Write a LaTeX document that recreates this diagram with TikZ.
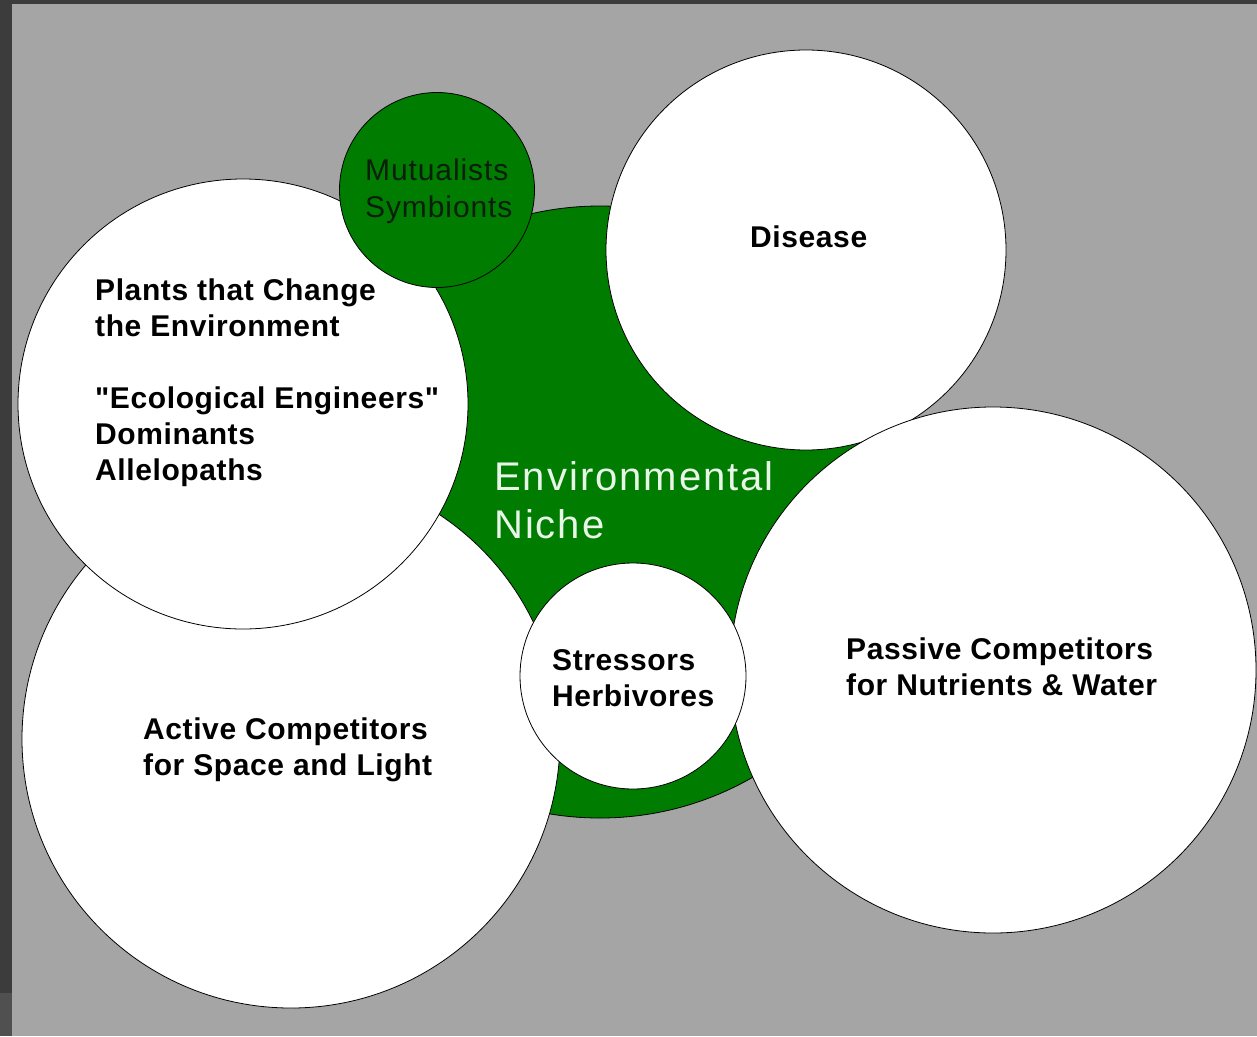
\documentclass[tikz,border=0pt]{standalone}
\usepackage{fontspec}
\setmainfont{Liberation Sans}
\newfontfamily\labfont[LetterSpace=2]{Liberation Sans}
\newfontfamily\mutfont[LetterSpace=3]{Liberation Sans}
\newfontfamily\envfont[LetterSpace=5]{Liberation Sans}
\definecolor{bggray}{RGB}{165,165,165}
\definecolor{framedark}{RGB}{60,60,60}
\definecolor{framemid}{RGB}{80,80,80}
\definecolor{nichegreen}{RGB}{0,125,0}
\definecolor{mutext}{RGB}{12,30,12}
\definecolor{envtext}{RGB}{232,246,232}
\tikzset{
  bubble/.style={circle, draw=black, line width=0.8pt, inner sep=0pt, fill=white},
  greenbubble/.style={bubble, fill=nichegreen},
  lab/.style={anchor=base west, inner sep=0pt, font=\labfont\bfseries\fontsize{30}{36}\selectfont, text=black},
  mutlab/.style={anchor=base west, inner sep=0pt, font=\mutfont\fontsize{30}{37}\selectfont, text=mutext},
  envlab/.style={anchor=base west, inner sep=0pt, font=\envfont\fontsize{40}{48}\selectfont, text=envtext}
}
\begin{document}
\begin{tikzpicture}[x=1pt,y=-1pt]
\useasboundingbox (0,0) rectangle (1257,1036);
% background and frame
\fill[bggray] (0,0) rectangle (1257,1036);
\fill[framedark] (0,0) rectangle (1257,4);
\fill[framedark] (0,0) rectangle (12,993);
\fill[framemid] (0,993) rectangle (12,1036);
% circles
\node[greenbubble, minimum size=612pt] (niche) at (600,512) {};
\node[bubble, minimum size=538pt] (active) at (291,739) {};
\node[bubble, minimum size=450pt] (plants) at (243,404) {};
\node[greenbubble, minimum size=195pt] (mutual) at (437,190) {};
\node[bubble, minimum size=400pt] (disease) at (806,250) {};
\node[bubble, minimum size=526pt] (passive) at (993,670) {};
\node[bubble, minimum size=226pt] (stress) at (633,676) {};
% labels
\node[mutlab] (mutualT) at (365,180) {\vtop{\hbox{Mutualists}\hbox{Symbionts}}};
\node[lab] (diseaseT) at (750,247) {Disease};
\node[lab] (plantsT) at (95,300) {\vtop{\hbox{Plants that Change}\hbox{the Environment}\hbox{}\hbox{"Ecological Engineers"}\hbox{Dominants}\hbox{Allelopaths}}};
\node[envlab] (nicheT) at (494,490) {\vtop{\hbox{Environmental}\hbox{Niche}}};
\node[lab] (stressT) at (552,670) {\vtop{\hbox{Stressors}\hbox{Herbivores}}};
\node[lab] (activeT) at (143,739) {\vtop{\hbox{Active Competitors}\hbox{for Space and Light}}};
\node[lab] (passiveT) at (846,659) {\vtop{\hbox{Passive Competitors}\hbox{for Nutrients \& Water}}};
\end{tikzpicture}
\end{document}
